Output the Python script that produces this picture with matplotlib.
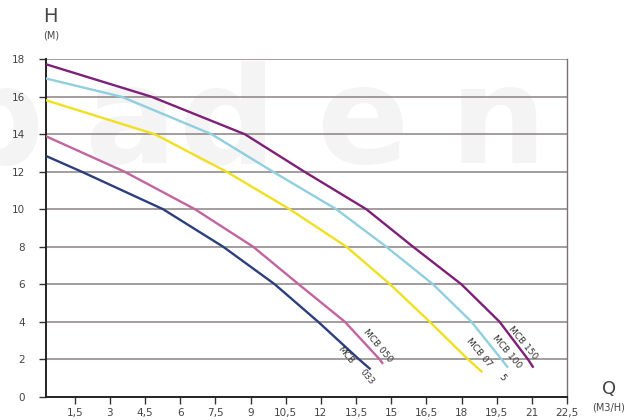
import numpy as np
import matplotlib
matplotlib.use("Agg")
import matplotlib.pyplot as plt

# pump curves (Q in m3/h, H in m)
q_033 = [0.26, 1.8, 5.27, 7.83, 10.03, 11.88, 13.62, 14.08]
h_033 = [12.85, 12, 10, 8, 6, 4, 2, 1.5]

q_050 = [0.26, 3.63, 6.63, 9.11, 11.05, 13.02, 14.5, 14.62]
h_050 = [13.9, 12, 10, 8, 6, 4, 2, 1.8]

q_075 = [0.26, 4.92, 7.98, 10.67, 13.09, 14.95, 16.64, 18.27, 18.85]
h_075 = [15.82, 14, 12, 10, 8, 6, 4, 2, 1.35]

q_100 = [0.26, 3.5, 7.34, 9.96, 12.66, 14.79, 16.78, 18.42, 19.7, 19.95]
h_100 = [16.98, 16, 14, 12, 10, 8, 6, 4, 2, 1.6]

q_150 = [0.26, 4.78, 8.76, 11.3, 13.94, 15.93, 17.99, 19.62, 20.83, 21.04]
h_150 = [17.74, 16, 14, 12, 10, 8, 6, 4, 2, 1.6]

x_ticks = [1.5, 3, 4.5, 6, 7.5, 9, 10.5, 12, 13.5, 15, 16.5, 18, 19.5, 21, 22.5]
x_labels = ["1,5", "3", "4,5", "6", "7,5", "9", "10,5", "12", "13,5", "15",
            "16,5", "18", "19,5", "21", "22,5"]
y_ticks = [0, 2, 4, 6, 8, 10, 12, 14, 16, 18]

fig = plt.figure(figsize=(6.42, 4.2), dpi=100)
fig.patch.set_facecolor("white")

# faint watermark behind the chart, one letter at a time
bg = fig.add_axes([0, 0, 1, 1], zorder=0)
bg.axis("off")
bg.set_xlim(0, 642)
bg.set_ylim(420, 0)
for ch, cx in zip("baden", [-5, 130, 228, 362, 498]):
    bg.text(cx, 163, ch, fontsize=98, fontweight="bold", color="#f4f4f4",
            ha="center", va="baseline")

ax = fig.add_axes([0.0712, 0.0555, 0.8120, 0.8033], zorder=1)
ax.set_facecolor("none")
ax.set_xlim(0.26, 22.5)
ax.set_ylim(0, 18)

for yy in y_ticks[1:]:
    ax.axhline(yy, color="#8a8282", lw=1.1, zorder=1)

ax.plot(q_033, h_033, color="#2c3f7c", lw=1.7, zorder=3)
ax.plot(q_050, h_050, color="#c264a0", lw=1.7, zorder=3)
ax.plot(q_075, h_075, color="#f0e020", lw=1.7, zorder=3)
ax.plot(q_100, h_100, color="#8fcfe0", lw=1.7, zorder=3)
ax.plot(q_150, h_150, color="#7e1f78", lw=1.7, zorder=3)

lab = dict(fontsize=6.5, color="#333333", rotation=-50, ha="center", va="center",
           rotation_mode="anchor")
ax.text(13.03, 2.22, "MCB", **lab)
ax.text(13.97, 1.05, "033", **lab)
ax.text(14.44, 2.71, "MCB 050", **lab)
ax.text(18.75, 2.33, "MCB 07", **lab)
ax.text(19.73, 1.0, "5", **lab)
ax.text(19.94, 2.38, "MCB 100", **lab)
ax.text(20.62, 2.87, "MCB 150", **lab)

ax.spines["top"].set_visible(False)
ax.spines["right"].set_color("#7a7070")
ax.spines["right"].set_linewidth(1.0)
ax.spines["left"].set_color("#222222")
ax.spines["bottom"].set_color("#222222")
ax.spines["left"].set_linewidth(1.4)
ax.spines["bottom"].set_linewidth(1.4)

ax.set_xticks(x_ticks)
ax.set_xticklabels(x_labels)
ax.set_yticks(y_ticks)
ax.tick_params(axis="x", direction="out", length=5, width=1.0, color="#333333",
               labelsize=7.5, labelcolor="#444444", pad=3)
ax.tick_params(axis="y", direction="out", length=5, width=1.0, color="#333333",
               labelsize=7.5, labelcolor="#444444", pad=10)

fig.text(50 / 642, 1 - 17 / 420, "H", fontsize=14, color="#444444",
         ha="center", va="center")
fig.text(51 / 642, 1 - 35 / 420, "(M)", fontsize=7, color="#444444",
         ha="center", va="center")
fig.text(609 / 642, 1 - 389 / 420, "Q", fontsize=13, color="#444444",
         ha="center", va="center")
fig.text(609 / 642, 1 - 408 / 420, "(M3/H)", fontsize=7, color="#444444",
         ha="center", va="center")

fig.savefig("out.png", dpi=100)
